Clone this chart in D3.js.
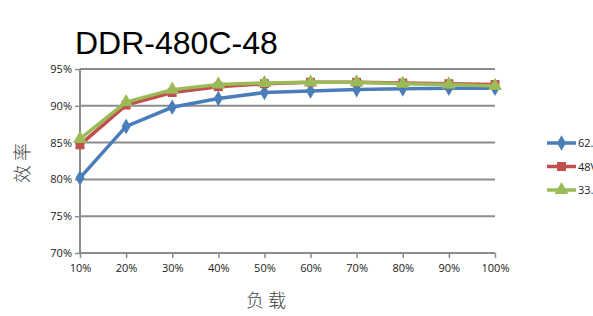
<!DOCTYPE html>
<meta charset="utf-8">
<head>
    <script src="https://d3js.org/d3.v7.min.js"></script>
</head>
<style>
    body { margin: 0; background: #fff; }
    .tick text { font-family: 'Open Sans', 'Liberation Sans', sans-serif; font-size: 11px; fill: #222; }
    .cjk { font-family: 'Noto Sans CJK SC', sans-serif; font-weight: 300; fill: #444; }
</style>
<div id="my_dataviz"></div>
<script>
    // chart data
    var loads = ["10%", "20%", "30%", "40%", "50%", "60%", "70%", "80%", "90%", "100%"];
    var yTicks = [70, 75, 80, 85, 90, 95];
    var seriesNames = ["62.5V", "48V", "33.6V"];
    var v62 = [80.2, 87.2, 89.8, 91.0, 91.8, 92.0, 92.2, 92.3, 92.4, 92.4];
    var v48 = [84.7, 90.1, 91.8, 92.6, 93.0, 93.2, 93.2, 93.1, 93.0, 92.9];
    var v33 = [85.5, 90.5, 92.2, 92.9, 93.1, 93.2, 93.2, 93.0, 92.9, 92.7];

    var W = 593, H = 316;
    var margin = {top: 69, right: 98, bottom: 63, left: 80},
        width = W - margin.left - margin.right,
        height = H - margin.top - margin.bottom;

    var root = d3.select("#my_dataviz")
        .append("svg")
        .attr("width", W)
        .attr("height", H);

    var svg = root.append("g")
        .attr("transform", "translate(" + margin.left + "," + margin.top + ")");

    var x = d3.scalePoint()
        .domain(loads)
        .range([0, 415]);

    var y = d3.scaleLinear()
        .domain([70, 95])
        .range([height, 0]);

    // gridlines
    svg.append("g")
        .selectAll("line")
        .data(yTicks.slice(1))
        .enter()
        .append("line")
        .attr("x1", 0)
        .attr("x2", 415)
        .attr("y1", function (d) { return y(d); })
        .attr("y2", function (d) { return y(d); })
        .style("stroke", "#8c8c8c")
        .style("stroke-width", 2);

    // X axis
    var xAxis = svg.append("g")
        .attr("transform", "translate(0," + height + ")")
        .call(d3.axisBottom(x).tickSize(5).tickPadding(6));
    xAxis.select(".domain").attr("d", "M0,0H415").style("stroke", "#8c8c8c").style("stroke-width", 2);
    xAxis.selectAll(".tick line").style("stroke", "#8c8c8c").style("stroke-width", 1.5);

    // Y axis
    var yAxis = svg.append("g")
        .call(d3.axisLeft(y).tickValues(yTicks).tickSize(5).tickPadding(3)
            .tickFormat(function (d) { return d + "%"; }));
    yAxis.select(".domain").attr("d", "M0," + height + "V0").style("stroke", "#8c8c8c").style("stroke-width", 2);
    yAxis.selectAll(".tick line").style("stroke", "#8c8c8c").style("stroke-width", 1.5);

    var colors = ["#4a7ebb", "#c0504d", "#9bbb59"];
    var allSeries = [v62, v48, v33];
    var markers = [d3.symbolDiamond, d3.symbolSquare, d3.symbolTriangle];
    var markerSize = [70, 80, 85];

    var line = d3.line()
        .x(function (d, i) { return x(loads[i]); })
        .y(function (d) { return y(d); });

    allSeries.forEach(function (vals, s) {
        svg.append("path")
            .datum(vals)
            .attr("d", line)
            .style("fill", "none")
            .style("stroke", colors[s])
            .style("stroke-width", 3.5);
        svg.append("g")
            .selectAll("path")
            .data(vals)
            .enter()
            .append("path")
            .attr("d", d3.symbol().type(markers[s]).size(markerSize[s]))
            .attr("transform", function (d, i) { return "translate(" + x(loads[i]) + "," + y(d) + ")"; })
            .style("fill", colors[s]);
    });

    // title
    root.append("text")
        .attr("x", 75)
        .attr("y", 54)
        .style("font-family", "'Liberation Sans', Arial, sans-serif")
        .style("font-size", "32px")
        .style("fill", "#000")
        .text("DDR-480C-48");

    // axis labels
    root.append("text")
        .attr("class", "cjk")
        .attr("text-anchor", "middle")
        .attr("x", 268)
        .attr("y", 307)
        .style("font-size", "18px")
        .style("letter-spacing", "4px")
        .text("负载");

    root.append("text")
        .attr("class", "cjk")
        .attr("text-anchor", "middle")
        .attr("transform", "translate(29,161) rotate(-90)")
        .style("font-size", "18px")
        .style("letter-spacing", "4px")
        .text("效率");

    // legend (clipped by the right edge, as in the original)
    var legend = root.append("g")
        .attr("transform", "translate(547,143)");
    seriesNames.forEach(function (name, s) {
        var g = legend.append("g").attr("transform", "translate(0," + (s * 23.5) + ")");
        g.append("line")
            .attr("x1", 0).attr("x2", 29)
            .style("stroke", colors[s])
            .style("stroke-width", 3.5);
        g.append("path")
            .attr("d", d3.symbol().type(markers[s]).size(markerSize[s]))
            .attr("transform", "translate(14.5,0)")
            .style("fill", colors[s]);
        g.append("text")
            .attr("x", 31)
            .attr("y", 4)
            .style("font-family", "'Open Sans', 'Liberation Sans', sans-serif")
            .style("font-size", "11px")
            .style("fill", "#222")
            .text(name);
    });
</script>
